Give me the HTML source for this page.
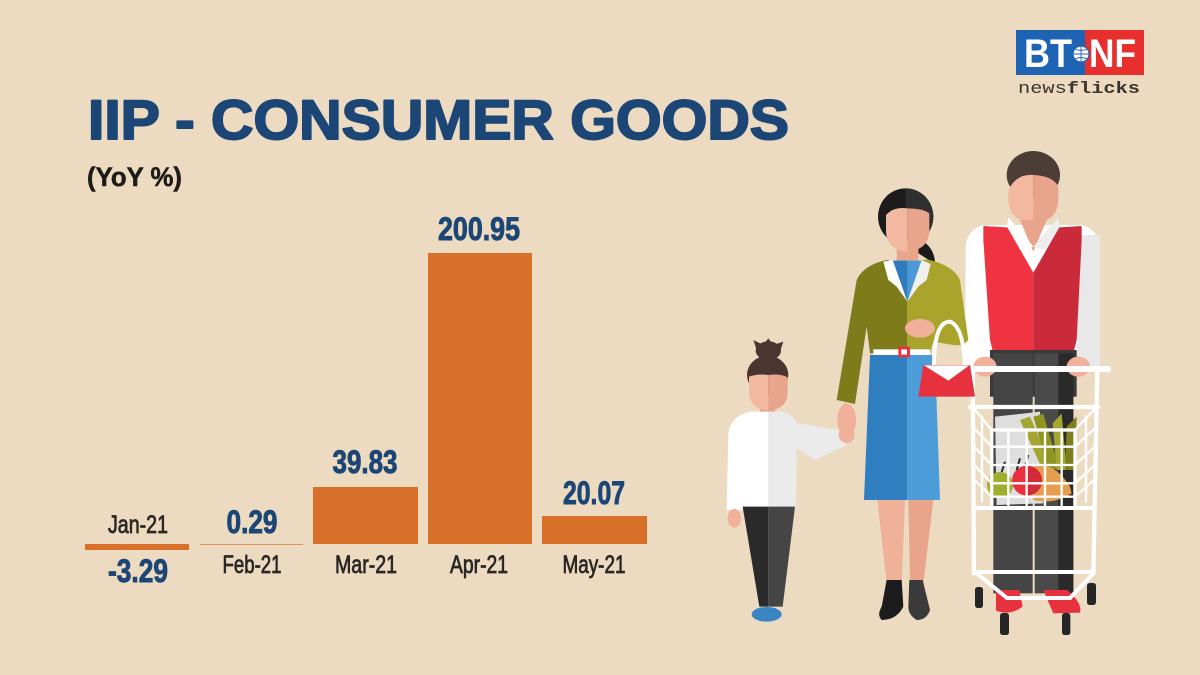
<!DOCTYPE html>
<html>
<head>
<meta charset="utf-8">
<style>
  html,body{margin:0;padding:0;background:#ecdbc1;}
  svg{display:block;}
  text{font-family:"Liberation Sans", sans-serif;}
</style>
</head>
<body>
<svg width="1200" height="675" viewBox="0 0 1200 675" xmlns="http://www.w3.org/2000/svg">
  <rect width="1200" height="675" fill="#ecdbc1"/>

  <!-- Title -->
  <text x="88" y="139" font-size="56" font-weight="bold" fill="#1b4676" stroke="#1b4676" stroke-width="2" stroke-linejoin="round" textLength="701" lengthAdjust="spacingAndGlyphs">IIP - CONSUMER GOODS</text>
  <text x="87" y="186" font-size="27" font-weight="bold" fill="#1f1b18" stroke="#1f1b18" stroke-width="0.5" textLength="95" lengthAdjust="spacingAndGlyphs">(YoY %)</text>

  <!-- Bars -->
  <rect x="85" y="544" width="104" height="6" fill="#d9702a"/>
  <rect x="200" y="544" width="103" height="1" fill="#e0925a"/>
  <rect x="313" y="487" width="105" height="57" fill="#d9702a"/>
  <rect x="428" y="253" width="104" height="291" fill="#d9702a"/>
  <rect x="542" y="516" width="105" height="28" fill="#d9702a"/>

  <!-- Value labels -->
  <g font-weight="bold" fill="#1b4676" stroke="#1b4676" stroke-width="0.9" font-size="32" text-anchor="middle">
    <text x="138" y="582" textLength="60" lengthAdjust="spacingAndGlyphs">-3.29</text>
    <text x="252" y="533" textLength="51" lengthAdjust="spacingAndGlyphs">0.29</text>
    <text x="365" y="473" textLength="65" lengthAdjust="spacingAndGlyphs">39.83</text>
    <text x="479" y="240" textLength="82" lengthAdjust="spacingAndGlyphs">200.95</text>
    <text x="594" y="504" textLength="62" lengthAdjust="spacingAndGlyphs">20.07</text>
  </g>

  <!-- Month labels -->
  <g fill="#2b2724" font-size="25" text-anchor="middle" stroke="#2b2724" stroke-width="0.8">
    <text x="138" y="533" textLength="60" lengthAdjust="spacingAndGlyphs">Jan-21</text>
    <text x="252" y="573" textLength="59" lengthAdjust="spacingAndGlyphs">Feb-21</text>
    <text x="366" y="573" textLength="62" lengthAdjust="spacingAndGlyphs">Mar-21</text>
    <text x="479" y="573" textLength="58" lengthAdjust="spacingAndGlyphs">Apr-21</text>
    <text x="594" y="573" textLength="63" lengthAdjust="spacingAndGlyphs">May-21</text>
  </g>

  <!-- Logo -->
  <rect x="1016" y="30" width="69" height="45" fill="#1f63b4"/>
  <rect x="1085" y="30" width="59" height="45" fill="#e7302e"/>
  <text x="1024" y="67" font-size="40" font-weight="bold" fill="#ffffff" textLength="48" lengthAdjust="spacingAndGlyphs">BT</text>
  <text x="1089" y="67" font-size="40" font-weight="bold" fill="#ffffff" textLength="47" lengthAdjust="spacingAndGlyphs">NF</text>
  <circle cx="1081" cy="54" r="8" fill="#ffffff" stroke="#1f63b4" stroke-width="1.2"/>
  <path d="M1073,54 L1089,54 M1081,46 L1081,62 M1075,49 Q1081,52 1087,49 M1075,59 Q1081,56 1087,59" stroke="#1f63b4" stroke-width="0.9" fill="none"/>
  <text x="1018" y="93" font-size="17" fill="#3b342e" textLength="122" lengthAdjust="spacingAndGlyphs" style="font-family:'Liberation Mono',monospace;"><tspan>news</tspan><tspan font-weight="bold">flicks</tspan></text>

  <!-- Illustration -->
  <g transform="translate(700,140) scale(0.333333)">
    <!-- MAN -->
    <ellipse cx="1000" cy="105" rx="80" ry="72" fill="#4d3d37"/>
    <rect x="965" y="210" width="70" height="90" fill="#e9a58b"/>
    <path d="M925,150 Q950,100 1000,105 L1000,248 Q925,245 925,175 Z" fill="#f2b9a0"/>
    <path d="M1000,105 Q1060,108 1075,140 L1075,175 Q1075,245 1000,248 Z" fill="#e9a58b"/>
    <!-- shirt -->
    <path d="M850,255 Q800,270 797,320 L795,680 L870,680 L870,640 L1130,640 L1130,680 L1200,680 L1200,320 Q1195,270 1145,255 Z" fill="#ffffff"/>
    <rect x="1130" y="285" width="70" height="395" fill="#e8e8e8"/>
    <polygon points="960,240 1000,335 1040,240" fill="#e9a58b"/>
    <polygon points="925,232 1000,320 950,335 918,282" fill="#ffffff"/>
    <polygon points="1075,232 1000,320 1050,335 1082,282" fill="#eeeeee"/>
    <!-- vest -->
    <polygon points="850,258 922,262 1000,398 1000,640 880,640 870,600 850,300" fill="#ef3341"/>
    <polygon points="1000,398 1078,262 1145,258 1145,300 1130,600 1120,640 1000,640" fill="#cb2a3b"/>
    <!-- pants -->
    <rect x="870" y="630" width="260" height="140" fill="#3a3a3a"/>
    <rect x="880" y="640" width="118" height="720" fill="#454545"/>
    <rect x="1004" y="640" width="116" height="720" fill="#4a4a4a"/>
    <rect x="1075" y="640" width="45" height="720" fill="#2a2a2a"/>
    <!-- shoes -->
    <path d="M888,1350 L958,1350 L968,1400 Q930,1428 888,1412 Z" fill="#e8313e"/>
    <path d="M1030,1350 L1102,1350 Q1148,1390 1140,1418 L1060,1420 Z" fill="#e8313e"/>
    <!-- hands -->
    <ellipse cx="855" cy="680" rx="35" ry="30" fill="#f0b09a"/>
    <ellipse cx="1135" cy="680" rx="35" ry="30" fill="#f0b09a"/>

    <!-- GROCERIES -->
    <polygon points="885,830 1020,815 1030,1090 890,1095" fill="#dedede"/>
    <polygon points="960,840 990,830 1060,990 1030,995" fill="#a3a630"/>
    <polygon points="1000,830 1030,822 1078,985 1046,990" fill="#8f951f"/>
    <polygon points="1058,850 1085,820 1100,990 1070,990" fill="#a3a630"/>
    <polygon points="1100,860 1130,830 1125,990 1095,990" fill="#7d7f1e"/>
    <path d="M1000,980 Q1060,960 1110,1040 L1115,1060 Q1060,1095 1000,1080 Z" fill="#e59d50"/>
    <circle cx="900" cy="1035" r="39" fill="#9fae2f"/>
    <circle cx="981" cy="1022" r="45" fill="#e8313e"/>
    <path d="M981,977 A45,45 0 0 1 981,1067 Z" fill="#d42a37"/>
    <path d="M975,978 L985,945 M905,996 L915,965 M950,990 L960,955" stroke="#2a2a2a" stroke-width="6"/>

    <!-- CART -->
    <g stroke="#ffffff" stroke-linecap="round" fill="none">
      <line x1="819" y1="687" x2="1224" y2="687" stroke-width="18"/>
      <line x1="818" y1="690" x2="822" y2="1300" stroke-width="13"/>
      <line x1="1192" y1="690" x2="1180" y2="1300" stroke-width="13"/>
      <line x1="810" y1="801" x2="1195" y2="801" stroke-width="13"/>
      <rect x="875" y="870" width="250" height="235" stroke-width="10"/>
      <g stroke-width="7">
        <line x1="925" y1="870" x2="925" y2="1105"/>
        <line x1="980" y1="870" x2="980" y2="1105"/>
        <line x1="1035" y1="870" x2="1035" y2="1105"/>
        <line x1="1085" y1="870" x2="1085" y2="1105"/>
        <line x1="875" y1="920" x2="1125" y2="920"/>
        <line x1="875" y1="975" x2="1125" y2="975"/>
        <line x1="875" y1="1030" x2="1125" y2="1030"/>
        <line x1="875" y1="1070" x2="1125" y2="1070"/>
        <line x1="818" y1="801" x2="875" y2="870"/>
        <line x1="1190" y1="801" x2="1125" y2="870"/>
        <line x1="818" y1="860" x2="875" y2="920"/>
        <line x1="1190" y1="860" x2="1125" y2="920"/>
        <line x1="818" y1="915" x2="875" y2="975"/>
        <line x1="1190" y1="915" x2="1125" y2="975"/>
        <line x1="818" y1="970" x2="875" y2="1030"/>
        <line x1="1190" y1="970" x2="1125" y2="1030"/>
        <line x1="818" y1="1015" x2="875" y2="1070"/>
        <line x1="1188" y1="1015" x2="1125" y2="1070"/>
        <line x1="846" y1="830" x2="846" y2="1085"/>
        <line x1="1158" y1="830" x2="1158" y2="1085"/>
      </g>
      <line x1="819" y1="1104" x2="1182" y2="1104" stroke-width="12"/>
      <line x1="835" y1="1296" x2="1175" y2="1296" stroke-width="12"/>
      <line x1="921" y1="1374" x2="1110" y2="1374" stroke-width="12"/>
      <line x1="830" y1="1300" x2="921" y2="1374" stroke-width="12"/>
      <line x1="1180" y1="1300" x2="1110" y2="1374" stroke-width="12"/>
    </g>
    <rect x="825" y="1341" width="24" height="63" rx="8" fill="#262626"/>
    <rect x="900" y="1419" width="27" height="66" rx="8" fill="#262626"/>
    <rect x="1086" y="1419" width="25" height="66" rx="8" fill="#262626"/>
    <rect x="1161" y="1329" width="27" height="66" rx="8" fill="#262626"/>

    <!-- WOMAN -->
    <ellipse cx="617" cy="230" rx="83" ry="85" fill="#1c1c1c"/>
    <path d="M617,145 A83,85 0 0 1 617,315 Z" fill="#2f2f2f"/>
    <path d="M655,295 Q705,320 705,372 Q690,362 655,340 Z" fill="#1c1c1c"/>
    <rect x="590" y="300" width="65" height="80" fill="#e9a58b"/>
    <path d="M558,225 Q580,200 622,205 L622,335 Q560,330 558,275 Z" fill="#f2b9a0"/>
    <path d="M622,205 Q670,205 688,220 L688,275 Q685,330 622,335 Z" fill="#e9a58b"/>
    <!-- jacket -->
    <path d="M622,370 L560,360 Q490,375 470,420 L410,780 L465,792 L500,560 L510,640 L622,640 Z" fill="#7e7b1b"/>
    <path d="M622,370 L680,358 Q760,375 780,420 L805,600 Q790,620 760,615 L700,605 L690,640 L622,640 Z" fill="#aaa42c"/>
    <polygon points="578,362 622,362 622,485" fill="#2e7bbf"/>
    <polygon points="622,362 665,362 622,485" fill="#4b9ad8"/>
    <polygon points="550,365 578,360 622,485 590,440 565,420" fill="#ffffff"/>
    <polygon points="665,360 692,372 680,420 655,440 622,485" fill="#f0f0f0"/>
    <ellipse cx="660" cy="565" rx="45" ry="28" fill="#f0b09a"/>
    <!-- skirt -->
    <path d="M510,645 L622,645 L622,1080 L492,1080 Z" fill="#2f7fc0"/>
    <path d="M622,645 L705,645 L720,1080 L622,1080 Z" fill="#4c9cd9"/>
    <!-- belt -->
    <rect x="520" y="628" width="170" height="17" fill="#ffffff"/>
    <rect x="595" y="620" width="35" height="32" rx="4" fill="#e8313e"/>
    <rect x="604" y="628" width="17" height="16" fill="#ffffff"/>
    <!-- legs -->
    <path d="M532,1080 L615,1080 L605,1330 L560,1330 Z" fill="#f0b199"/>
    <path d="M625,1080 L700,1080 L670,1330 L630,1330 Z" fill="#e9a58b"/>
    <path d="M560,1320 L605,1320 L610,1400 Q590,1440 545,1440 Q530,1425 545,1400 Z" fill="#1c1c1c"/>
    <path d="M628,1320 L668,1320 L690,1410 Q680,1440 650,1440 Q625,1425 625,1400 Z" fill="#3a3a3a"/>
    <!-- handbag -->
    <path d="M702,690 Q700,545 750,545 Q792,560 795,690" stroke="#ffffff" stroke-width="12" fill="none"/>
    <polygon points="670,675 810,675 825,770 655,770" fill="#e8313e"/>
    <polygon points="672,676 808,676 745,722" fill="#ffffff"/>
    <!-- woman hand -->
    <ellipse cx="440" cy="840" rx="28" ry="50" fill="#f0b09a"/>

    <!-- CHILD -->
    <ellipse cx="205" cy="632" rx="38" ry="28" fill="#4a3530"/>
    <path d="M170,630 L160,600 L190,615 L205,595 L220,615 L250,605 L240,635 Z" fill="#4a3530"/>
    <ellipse cx="203" cy="705" rx="62" ry="58" fill="#4a3530"/>
    <rect x="180" y="790" width="45" height="35" fill="#e9a58b"/>
    <path d="M147,710 Q175,700 205,705 L205,812 Q147,808 147,755 Z" fill="#f2b9a0"/>
    <path d="M205,705 Q240,700 263,712 L263,755 Q263,808 205,812 Z" fill="#e9a58b"/>
    <path d="M205,815 L150,815 Q90,830 85,880 L80,1110 L128,1110 L128,1105 L205,1105 Z" fill="#ffffff"/>
    <path d="M205,815 L255,815 Q285,830 290,850 L415,870 L440,915 L345,960 L290,925 L288,1105 L205,1105 Z" fill="#ebebeb"/>
    <ellipse cx="440" cy="885" rx="24" ry="24" fill="#f0b09a"/>
    <ellipse cx="103" cy="1135" rx="20" ry="28" fill="#f0b09a"/>
    <path d="M128,1100 L205,1100 L205,1400 L178,1400 Z" fill="#2a2a2a"/>
    <path d="M205,1100 L285,1100 L248,1400 L205,1400 Z" fill="#454545"/>
    <ellipse cx="200" cy="1423" rx="45" ry="22" fill="#3a86c4"/>
  </g>
</svg>
</body>
</html>
